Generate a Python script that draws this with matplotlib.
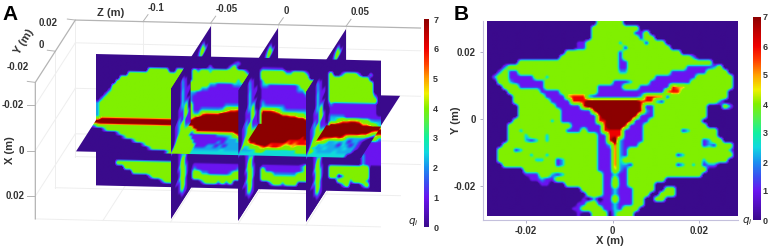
import numpy as np
import matplotlib
matplotlib.use("Agg")
import matplotlib.pyplot as plt
from matplotlib.colors import LinearSegmentedColormap, Normalize
from matplotlib.cm import ScalarMappable
from matplotlib.path import Path
from matplotlib.transforms import Affine2D

plt.rcParams['font.family'] = ['Liberation Sans', 'DejaVu Sans']

W, H = 768, 247

# q_i, one digit per cell, rows top to bottom
# panel B, x -0.029..0.029, y 0.029..-0.029
b_rows = [
    "00000000 00000000 00000444 44000000",
    "00000000 00000000 00004444 44444000",
    "00000000 00000000 00004444 44441140",
    "00000000 00000000 00004444 44444144",
    "00000000 00000000 01144444 42444414 44000000",
    "00000000 00000000 01144444 44144444 44400000",
    "00000000 00000004 44444444 41444444 44444000",
    "00000000 00000044 44444444 41444444 44444442",
    "00000044 44444444 44444444 41144444 44444444 44400000",
    "00024444 44444444 44444444 41144444 44444411 11124000",
    "00241144 44444444 44444444 42244444 44411111 11444400",
    "02441111 14424444 44444444 44444444 11111111 44444440",
    "00442111 11144444 44444444 11124441 11111114 44444440",
    "00044411 11144444 44444111 11444111 11165544 44444440",
    "00004444 44111144 44444111 11111111 11666444 44444400",
    "00000444 44411115 66621111 11111266 66144444 44444400",
    "00000444 44441111 66677777 77777666 21444444 44442000",
    "00000044 44444111 11677777 77777611 44444444 44000420",
    "00000044 44444411 11116777 77777621 44444444 44000000",
    "00000044 44444411 11111677 77776111 44444444 44000000",
    "00000444 44442411 11111667 77761114 44444444 40000000",
    "00004444 44444444 11111167 77611144 44444444 44000000",
    "00004424 44444441 11411166 66111144 44444124 44440000",
    "00004442 44424444 44444116 66111144 44444444 44440000",
    "00004442 12424444 44444116 72111144 44444444 41244000",
    "00044444 44444444 44444112 62111444 44444444 41214440",
    "00444124 44444444 44444111 62144444 44444444 44444420",
    "00444444 24424444 44444111 62144444 44441244 44444440",
    "00444444 42244124 44444111 62444444 44444444 42444400",
    "00044444 44444124 44444111 62214444 44441242 41220000",
    "00000004 44444444 44444111 52144444 44444444 44000000",
    "00000001 11442124 44444411 31144444 44444444 40000000",
    "00000000 11211444 44444411 41144444 44000000 00000000",
    "00000000 00110004 44444411 51144444 00000000",
    "00000000 00000000 00444411 31114444 00440000",
    "00000000 00000000 00044411 31114440 04440000",
    "00000000 00000000 00102011 51114400 44000000",
    "00000000 00000000 01144111 31114400",
    "00000000 00000000 11444411 31444000",
    "00000000 00000000 01004440 34440000",
]

# main sheet y=0, z -0.12..0.09, x -0.0287..0.0287
main_rows = [
    "",
    "0000000000000000000 00000 000000000012",
    "0000000000000000000 00000 000020000240 00000 111111000000",
    "0000000000000444440 04400 424424444444 42000 444444224442 00000 4002444200200",
    "0000000044444444444 44400 444444444444 44200 444444444444 00040 4444444444000",
    "0000004444444444444 44440 444444444442 44220 244444444444 44440 4444444444400",
    "0000044444444444444 44444 444422111122 22220 221111111244 44440 4444444444400",
    "0000444444444444444 44444 442211111111 12220 111111111224 44440 4444444444400",
    "0002444444444444444 44442 211111111111 11120 111111111112 24440 4444444444420",
    "0024444444444444444 44442 111111111111 11120 111111111111 22440 4444444444440",
    "0244444444444444444 44442 111111111111 11120 211111111111 12240 2111111111110",
    "2444444444444444444 44424 111111112222 22220 322222111111 12240 1111111111110",
    "2444444444444444444 44424 112222234556 66660 666543222222 22240 1111111111110",
    "2444444444444444444 44424 225666677777 77770 777776655443 32240 2222111111111",
    "2444444444444444444 44424 677777777777 77770 777777777776 65540 3345566544322",
    "6777777777777777777 77727 777777777777 77770 777777777777 77770 7777777766543",
    "7777777777777777777 77777 777777777777 77770 777777777777 77770 7777777777777",
    "6677777777777777777 77777 777777777777 77770 777777777777 77770 7777777777766",
    "0000000000000000000 00000 000000000000 00000 000000000000 00000 0000000065442",
    "0000000000000000000 00000 000000000000 00000 000000000000 00000 0000000022111",
    "0000000000000000000 00000 000000000000 00000 000000000000 00000 0000000021111",
    "0000000000000000000 00000 000000000000 00000 000000000000 00000 0000000011111",
    "0000000000000000000 00000 000000000000 00000 000000000000 00000 0000000021111",
    "0000000000000000000 00000 000000000000 00000 000000000000 00000 0000000021111",
    "0000000000000000000 00000 000000000000 00000 000000000000 00000 0000000021111",
    "0000044444444444444 44420 111111111111 00000 111111111124 00000 4444444444000",
    "0000000444444444444 44420 211111111112 00000 411111111124 00000 4444444444000",
    "0000000004444444444 44420 442211111244 00000 444222222444 00000 4402444444000",
    "0000000000000244444 44200 444444444444 00000 444444444444 00000 0044424442000",
    "0000000000000000244 42000 002444242400 00000 002442444000 00000 0002400024000",
    "",
]

# sheet x=0 in front of the main sheet, y 0..-0.02
front_rows = [
    "7777777777777777777 77777 777777777777 77777 777777777777 77777 7777777777777",
    "2444444444444444444 44444 477777777777 77777 777777777777 77777 7777777777765",
    "0002444444444444444 44444 426666666666 77777 777777777777 77777 7777766665543",
    "0000000244444444444 44444 411111112233 46667 777777777777 67777 6665653222210",
    "0000000002444444444 44444 441111111112 22466 777777777666 66555 5422323122100",
    "0000000000002444444 44444 444111111212 22224 667776666565 66654 2322213212100",
    "0000000000000002444 44444 444411122121 22223 344565665445 44433 2232222322100",
    "0000000000000000024 44444 444422222223 22222 223443333333 34444 3222232222000",
    "0000000000000000000 00024 444433333333 33333 333333333333 33333 3333333330000",
]

# upright sheets at z -0.05, 0, 0.05; y -0.02..0.02 left to right
slice_rows = [
    "",
    "000000001200",
    "000200002400",
    "000210002420",
    "000210001000",
    "000310",
    "000311",
    "000311",
    "001310",
    "001231",
    "001140",
    "012140",
    "012141",
    "012411",
    "013411",
    "024421",
    "344442",
    "024442",
    "00241",
    "00121",
    "00121",
    "00131",
    "00142",
    "00241",
    "00141",
    "00142",
    "01242",
    "00142",
    "00141",
    "00141",
    "00031",
    "00011",
    "",
]

slice_z = [-0.05, 0, 0.05]
z_ticks = [-0.1, -0.05, 0, 0.05]
xy_ticks = [-0.02, 0, 0.02]
q_ticks = [0, 1, 2, 3, 4, 5, 6, 7]
y_tick_px = [(18, 67), (41, 45), (48, 23)]

# q_i of each digit used in the rows above
cell_q = np.array([0, 1, 1.85, 2.1, 4, 5.13, 5.67, 7])

cmap_nodes = [(0, '#3a0a8c'), (1, '#6a14f0'), (1.5, '#3a50f0'), (2, '#1a90f0'),
              (2.5, '#10d8e0'), (3, '#10f0a0'), (3.5, '#50f050'), (4, '#80f000'),
              (4.5, '#f0f000'), (5, '#ffa000'), (5.5, '#ff4000'), (6, '#f00000'),
              (6.5, '#c00000'), (7, '#8c0000')]
cmap = LinearSegmentedColormap.from_list('qi', [(v / 7, c) for v, c in cmap_nodes], N=512)
norm = Normalize(0, 7)

# display curve: flat on the plateaus, steep between, keeps the cell edges thin
curve_in = [0, 0.5, 0.9, 1.1, 3, 4.6, 6.2, 7]
curve_out = [0, 0, 1, 1, 4, 4, 7, 7]


def to_grid(rows, cols, k=4):
    rows = [r.replace(' ', '').ljust(cols, '0')[:cols] for r in rows]
    g = cell_q[np.array([[int(c) for c in r] for r in rows])]
    # finer raster for the display curve
    ii = np.clip((np.arange(g.shape[0] * k) + 0.5) / k - 0.5, 0, g.shape[0] - 1)
    jj = np.clip((np.arange(g.shape[1] * k) + 0.5) / k - 0.5, 0, g.shape[1] - 1)
    g = np.array([np.interp(ii, np.arange(g.shape[0]), g[:, j]) for j in range(g.shape[1])]).T
    g = np.array([np.interp(jj, np.arange(g.shape[1]), row) for row in g])
    return np.interp(g, curve_in, curve_out)


def proj(x, y, z):
    # oblique view of panel A, result in figure pixels
    px = 775 + z * 203 / 0.05 + y * 60 / 0.02
    py = 372.5 + z * 4.7 / 0.05 - y * 93.5 / 0.02 + x * 136.5 / 0.02
    return px / 3, py / 3


def draw_sheet(ax, grid, bl, br, tl, zorder, clip=None):
    m = [[br[0] - bl[0], tl[0] - bl[0], bl[0]],
         [br[1] - bl[1], tl[1] - bl[1], bl[1]],
         [0, 0, 1]]
    im = ax.imshow(grid, cmap=cmap, norm=norm, extent=(0, 1, 0, 1), origin='upper',
                   aspect='auto', interpolation='bilinear', zorder=zorder,
                   transform=Affine2D(np.array(m)) + ax.transData)
    if clip is not None:
        im.set_clip_path(Path(clip + [clip[0]]), ax.transData)
    return im


def px_axes(x0, y0, x1, y1):
    return fig.add_axes([x0 / W, 1 - y1 / H, (x1 - x0) / W, (y1 - y0) / H])


fig = plt.figure(figsize=(W / 100, H / 100), dpi=100)
ax = fig.add_axes([0, 0, 1, 1])
ax.set_xlim(0, W)
ax.set_ylim(H, 0)
ax.autoscale(False)
ax.axis('off')

tick_font = dict(fontsize=7, fontweight='bold', color='#333333')

# panel A box
zb, zf = -0.15, 0.105
xt, xb = -0.03, 0.03
yf, yb = -0.02, 0.02
edge = '#b4b4b4'
faint = '#eeeeee'
for y in [0, yb]:
    ax.plot(*zip(proj(xt, y, zb), proj(xb, y, zb)), color=faint, lw=0.7, zorder=0)
    ax.plot(*zip(proj(xb, y, zb), proj(xb, y, zf)), color=faint, lw=0.7, zorder=0)
for x in xy_ticks:
    ax.plot(*zip(proj(x, yf, zb), proj(x, yb, zb)), color=faint, lw=0.7, zorder=0)
    ax.plot(*zip(proj(x, yb, zb), proj(x, yb, zf)), color=faint, lw=0.7, zorder=0)
for z in z_ticks:
    ax.plot(*zip(proj(xt, yb, z), proj(xb, yb, z)), color=faint, lw=0.7, zorder=0)
    ax.plot(*zip(proj(xb, yf, z), proj(xb, yb, z)), color=faint, lw=0.7, zorder=0)
ax.plot(*zip(proj(xb, yf, zb), proj(xb, yf, zf)), color=faint, lw=0.7, zorder=0)
ax.plot(*zip(proj(xb, yf, zb), proj(xt, yf, zb), proj(xt, yb, zb), proj(xt, yb, zf)),
        color=edge, lw=0.9, zorder=0)

# ticks and labels of panel A
for x in xy_ticks:
    p = proj(x, yf, zb)
    ax.plot([p[0] - 8, p[0]], [p[1], p[1]], color=edge, lw=0.7, zorder=0)
    ax.text(p[0] - 11, p[1], f'{x:g}', ha='right', va='center', **tick_font)
for y, pos in zip(xy_ticks, y_tick_px):
    p = proj(xt, y, zb)
    ax.plot([p[0] - 8, p[0]], [p[1] - 1, p[1]], color=edge, lw=0.7, zorder=0)
    ax.text(pos[0], pos[1], f'{y:g}', ha='center', va='center', **tick_font)
for z in z_ticks:
    p = proj(xt, yb, z)
    ax.plot([p[0], p[0] + 5], [p[1], p[1] - 7], color=edge, lw=0.7, zorder=0)
    ax.text(p[0] + 5, p[1] - 14, f'{z:g}', ha='left', va='center', **tick_font)
ax.text(111, 13, 'Z (m)', ha='center', va='center', fontsize=8, fontweight='bold', color='#333333')
ax.text(24, 42, 'Y (m)', ha='center', va='center', rotation=58, fontsize=8,
        fontweight='bold', color='#333333')
ax.text(10, 150, 'X (m)', ha='center', va='center', rotation=90, fontsize=8,
        fontweight='bold', color='#333333')
ax.text(2, 15, 'A', ha='left', va='center', fontsize=15, fontweight='bold', color='black')
ax.text(413, 222, '$\\boldsymbol{q_i}$', ha='center', va='center', fontsize=7.5, color='#222222')

# sheets of panel A, painted back to front
main_grid = to_grid(main_rows, 71)
front_grid = to_grid(front_rows, 71)
slice_grid = to_grid(slice_rows, 12)
xe = 0.0287
z0, z1 = -0.12, 0.09

# far part of the x=0 sheet, only its right tip shows
back_poly = [proj(0, 0, z0), proj(0, 0, z1), proj(0, yb, z1), proj(0, yb, z0)]
ax.fill(*zip(*back_poly), color=cmap(0.0), lw=0, zorder=1)

for z in slice_z:
    draw_sheet(ax, slice_grid, proj(xe, yf, z), proj(xe, yb, z), proj(-xe, yf, z), 1)

draw_sheet(ax, main_grid, proj(xe, 0, z0), proj(xe, 0, z1), proj(-xe, 0, z0), 2)

for z in slice_z:
    lower = [proj(0, yf, z), proj(0, 0, z), proj(xe, 0, z), proj(xe, yf, z)]
    draw_sheet(ax, slice_grid, proj(xe, yf, z), proj(xe, yb, z), proj(-xe, yf, z), 3, clip=lower)

draw_sheet(ax, front_grid, proj(0, yf, z0), proj(0, yf, z1), proj(0, 0, z0), 4)

for z in slice_z:
    upper = [proj(-xe, yf, z), proj(-xe, 0, z), proj(0, 0, z), proj(0, yf, z)]
    draw_sheet(ax, slice_grid, proj(xe, yf, z), proj(xe, yb, z), proj(-xe, yf, z), 5, clip=upper)

# colorbar of panel A
cax_a = px_axes(424, 19, 429, 227)
cb_a = fig.colorbar(ScalarMappable(norm, cmap), cax=cax_a, ticks=q_ticks)
cb_a.outline.set_visible(False)
cb_a.ax.tick_params(length=0, pad=3, labelsize=6.5, labelcolor='#333333')
for t in cb_a.ax.get_yticklabels():
    t.set_fontweight('bold')

# panel B
axb = px_axes(482.7, 21, 738, 219.5)
grid_b = to_grid(b_rows, 48)
axb.imshow(grid_b, cmap=cmap, norm=norm, extent=(-0.029, 0.029, -0.029, 0.029),
           origin='upper', aspect='auto', interpolation='bilinear')
axb.set_xlim(-0.03, 0.029)
axb.set_ylim(-0.03, 0.0293)
axb.set_xticks(xy_ticks, [f'{v:g}' for v in xy_ticks])
axb.set_yticks(xy_ticks, [f'{v:g}' for v in xy_ticks])
axb.tick_params(length=2, width=0.6, color='#a8a8c0', pad=3, labelsize=7, labelcolor='#333333')
for t in axb.get_xticklabels() + axb.get_yticklabels():
    t.set_fontweight('bold')
for s in ['top', 'right']:
    axb.spines[s].set_visible(False)
for s in ['left', 'bottom']:
    axb.spines[s].set_color('#c4c0dc')
    axb.spines[s].set_linewidth(0.8)
axb.set_xlabel('X (m)', fontsize=8, fontweight='bold', color='#333333', labelpad=0)
axb.set_ylabel('Y (m)', fontsize=8, fontweight='bold', color='#333333')
axb.yaxis.set_label_coords((461 - 482.7) / 255.3, 0.5)
ax.text(454, 14, 'B', ha='left', va='center', fontsize=15, fontweight='bold', color='black')
ax.text(747, 221, '$\\boldsymbol{q_i}$', ha='center', va='center', fontsize=7.5, color='#222222')

cax_b = px_axes(753, 17, 761, 220)
cb_b = fig.colorbar(ScalarMappable(norm, cmap), cax=cax_b, ticks=q_ticks)
cb_b.outline.set_visible(False)
cb_b.ax.tick_params(length=0, pad=1, labelsize=6.5, labelcolor='#333333')
for t in cb_b.ax.get_yticklabels():
    t.set_fontweight('bold')

fig.savefig('out.png', dpi=100)
